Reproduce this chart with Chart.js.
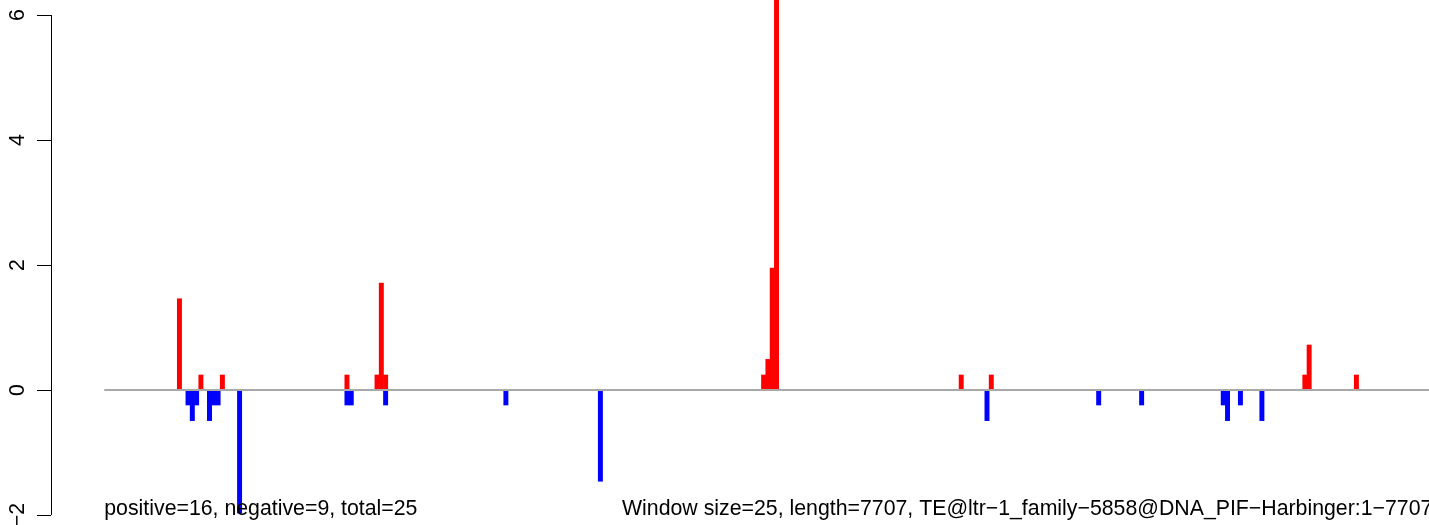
<!DOCTYPE html>
<html>
<head>
<meta charset="utf-8">
<script src="https://cdn.jsdelivr.net/npm/chart.js@4/dist/chart.umd.min.js"></script>
<style>
	html, body { margin: 0; padding: 0; background: #fff; }
	#wrap { width: 1429px; height: 525px; position: relative; }
</style>
</head>
<body>
<div id="wrap"><canvas id="te-chart"></canvas></div>
<script>
// Data (window index -> score)
const binCount = 308;
const redBins = [17, 22, 27, 56, 63, 64, 65, 153, 154, 155, 156, 199, 206, 279, 280, 291];
const redValues = [1.46, 0.24, 0.24, 0.24, 0.24, 1.71, 0.24, 0.24, 0.49, 1.95, 6.6, 0.24, 0.24, 0.24, 0.72, 0.24];
const blueBins = [19, 20, 21, 24, 25, 26, 31, 56, 57, 65, 93, 115, 205, 231, 241, 260, 261, 264, 269];
const blueValues = [-0.24, -0.49, -0.24, -0.49, -0.24, -0.24, -1.97, -0.24, -0.24, -0.24, -0.24, -1.46, -0.49, -0.24, -0.24, -0.24, -0.49, -0.24, -0.49];
const yTicks = [-2, 0, 2, 4, 6];
const leftNote = 'positive=16, negative=9, total=25';
const rightNote = 'Window size=25, length=7707, TE@ltr\u22121_family\u22125858@DNA_PIF\u2212Harbinger:1\u22127707';

function fullSeries(bins, values) {
	const out = [];
	for (let i = 0; i < binCount; i++) {
		out.push({ x: i, y: null });
	}
	bins.forEach(function (b, i) {
		out[b].y = values[i];
	});
	return out;
}

const FONT = '21.3px "Liberation Sans", Arial, sans-serif';

// axis line, tick labels, zero line and the two notes
const decorations = {
	id: 'decorations',
	afterDatasetsDraw: function (chart) {
		const ctx = chart.ctx;
		const xs = chart.scales.x;
		const ys = chart.scales.y;
		const zero = ys.getPixelForValue(0);

		ctx.save();
		ctx.strokeStyle = '#a9a9a9';
		ctx.lineWidth = 2;
		ctx.beginPath();
		ctx.moveTo(xs.getPixelForValue(-0.5), zero);
		ctx.lineTo(chart.chartArea.right, zero);
		ctx.stroke();
		ctx.restore();
	},
	afterDraw: function (chart) {
		const ctx = chart.ctx;
		const xs = chart.scales.x;
		const ys = chart.scales.y;

		ctx.save();
		// y axis line, only over the tick range
		ctx.strokeStyle = '#000';
		ctx.lineWidth = 1;
		ctx.beginPath();
		ctx.moveTo(ys.right + 0.5, ys.getPixelForValue(yTicks[0]));
		ctx.lineTo(ys.right + 0.5, ys.getPixelForValue(yTicks[yTicks.length - 1]));
		ctx.stroke();

		// rotated tick labels
		ctx.fillStyle = '#000';
		ctx.font = FONT;
		ctx.textAlign = 'center';
		ctx.textBaseline = 'alphabetic';
		yTicks.forEach(function (v) {
			ctx.save();
			ctx.translate(24, ys.getPixelForValue(v));
			ctx.rotate(-Math.PI / 2);
			ctx.fillText(String(v).replace('-', '\u2212'), 0, 0);
			ctx.restore();
		});

		// bottom notes
		ctx.textAlign = 'left';
		ctx.fillText(leftNote, xs.getPixelForValue(-0.5), 515);
		ctx.fillText(rightNote, 622, 515);
		ctx.restore();
	},
};

new Chart(document.getElementById('te-chart'), {
	type: 'bar',
	data: {
		datasets: [
			{
				label: 'positive',
				data: fullSeries(redBins, redValues),
				backgroundColor: '#ff0000',
				borderWidth: 0,
				barPercentage: 1,
				categoryPercentage: 1,
			},
			{
				label: 'negative',
				data: fullSeries(blueBins, blueValues),
				backgroundColor: '#0000ff',
				borderWidth: 0,
				barPercentage: 1,
				categoryPercentage: 1,
			},
		],
	},
	options: {
		responsive: true,
		maintainAspectRatio: false,
		animation: false,
		devicePixelRatio: 1,
		layout: { padding: 0 },
		plugins: {
			legend: { display: false },
			tooltip: { enabled: false },
		},
		scales: {
			x: {
				type: 'linear',
				stacked: true,
				display: false,
				offset: false,
				min: -12.9,
				max: 307.9,
			},
			y: {
				stacked: true,
				min: -2.16,
				max: 6.24,
				afterBuildTicks: function (scale) {
					scale.ticks = yTicks.map(function (v) {
						return { value: v };
					});
				},
				afterFit: function (scale) {
					scale.width = 51;
				},
				ticks: { display: false },
				border: { display: false },
				grid: {
					drawOnChartArea: false,
					drawTicks: true,
					tickLength: 14,
					color: '#000',
					lineWidth: 1,
				},
			},
		},
	},
	plugins: [decorations],
});
</script>
</body>
</html>
